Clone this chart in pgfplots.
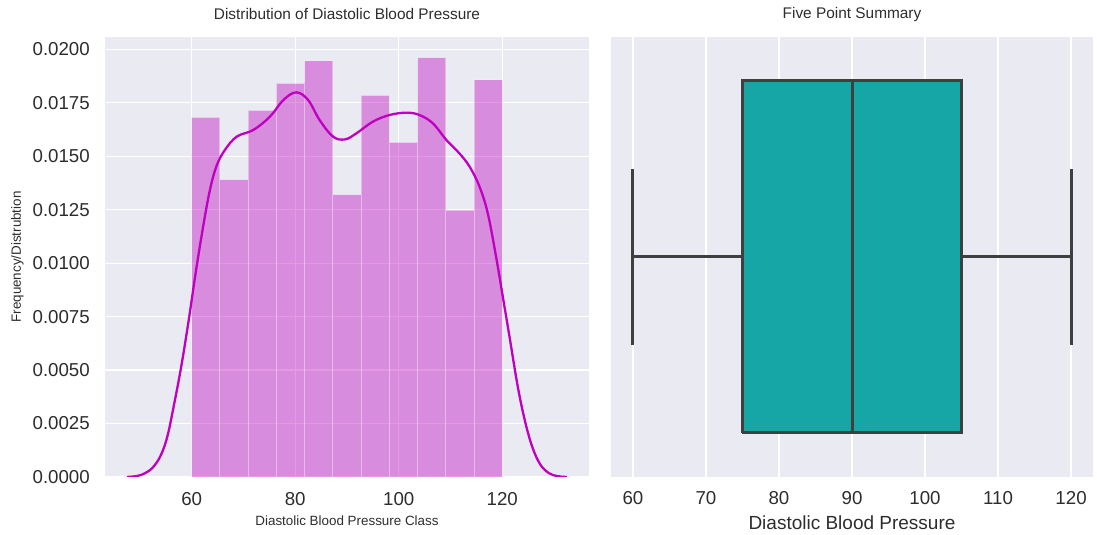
\documentclass[border=0pt]{standalone}
\usepackage{pgfplots}
\pgfplotsset{compat=1.18}
\usepackage{pgfplotstable}
\usepackage{fontspec}
\setmainfont{Liberation Sans}
\definecolor{sbbg}{HTML}{EAEAF2}
\definecolor{kdec}{RGB}{191,0,191}
\definecolor{boxc}{RGB}{23,166,166}
\definecolor{linec}{RGB}{63,63,63}
\definecolor{txt}{RGB}{45,45,45}

\pgfplotstableread{
x y
60.0000 0.016823
65.4545 0.013904
70.9091 0.017150
76.3636 0.018414
81.8182 0.019460
87.2727 0.013202
92.7273 0.017853
98.1818 0.015652
103.6364 0.019616
109.0909 0.012484
114.5455 0.018570
120.0000 0.018570
}\histtab

\pgfplotstableread{
x y
47.5 0.00000
49.5 0.00005
51.0 0.00018
52.5 0.00045
54.0 0.00100
55.3 0.00190
56.6 0.00340
58.0 0.00520
59.4 0.00730
60.8 0.00960
62.2 0.01170
63.5 0.01340
64.8 0.01455
66.4 0.01529
68.7 0.01592
71.9 0.01623
75.1 0.01685
77.7 0.01763
80.2 0.01799
82.5 0.01763
84.7 0.01670
87.3 0.01592
89.6 0.01579
91.8 0.01607
95.0 0.01662
98.2 0.01693
101.5 0.01704
104.0 0.01693
106.6 0.01654
109.2 0.01576
111.7 0.01514
113.7 0.01451
115.6 0.01358
117.2 0.01233
118.8 0.01030
120.1 0.00843
121.4 0.00655
123.0 0.00421
124.4 0.00260
125.8 0.00140
127.3 0.00060
129.0 0.00018
130.7 0.00004
132.5 0.00000
}\kdetab

% five point summary: min, Q1, median, Q3, max
\def\bmin{60}\def\bqone{75}\def\bmed{90}\def\bqthree{105}\def\bmax{120}

\pgfplotsset{
  sbstyle/.style={
    scale only axis,
    axis background/.style={fill=sbbg},
    axis line style={draw=none},
    major tick length=0pt,
    grid style={white, line width=1.2bp},
    /pgf/number format/assume math mode=true,
    tick label style={font=\fontsize{18.7bp}{22bp}\selectfont, text=txt, inner sep=0pt},
    title style={font=\fontsize{15.4bp}{18bp}\selectfont, text=txt, anchor=center, inner sep=0pt},
    label style={text=txt, inner sep=0pt},
  },
}

\begin{document}
\begin{tikzpicture}
\path[use as bounding box] (0,0) rectangle (1097bp,535bp);

\begin{axis}[sbstyle,
  at={(105bp,58bp)}, anchor=south west,
  width=484bp, height=440bp,
  xmin=43.25, xmax=136.75, ymin=0, ymax=0.02058,
  xmajorgrids=true, ymajorgrids=true,
  xtick={60,80,100,120},
  ytick={0,0.0025,0.005,0.0075,0.01,0.0125,0.015,0.0175,0.02},
  scaled y ticks=false,
  yticklabel style={/pgf/number format/.cd, fixed, fixed zerofill, precision=4, /tikz/.cd, anchor=east, xshift=-15bp},
  xticklabel style={anchor=center, yshift=-22bp},
  title={Distribution of Diastolic Blood Pressure},
  title style={at={(axis description cs:0.5,1.0386)}},
  xlabel={Diastolic Blood Pressure Class},
  xlabel style={font=\fontsize{13.4bp}{16bp}\selectfont, at={(axis description cs:0.5,-0.1)}, anchor=center},
  ylabel={Frequency/Distrubtion},
  ylabel style={font=\fontsize{13.4bp}{16bp}\selectfont, at={(axis description cs:-0.1808,0.5)}, anchor=center, rotate=0},
]
\addplot[ybar interval, fill=kdec, draw=white, line width=1bp, opacity=0.4] table[x=x, y=y] {\histtab};
\addplot[kdec, line width=2.3bp, smooth, tension=0.6] table[x=x, y=y] {\kdetab};
\end{axis}

\begin{axis}[sbstyle,
  at={(611bp,58bp)}, anchor=south west,
  width=482bp, height=440bp,
  xmin=57, xmax=123, ymin=-0.5, ymax=0.5,
  xmajorgrids=true, ymajorgrids=false,
  xtick={60,70,80,90,100,110,120},
  ytick=\empty,
  xticklabel style={anchor=center, yshift=-21bp},
  title={Five Point Summary},
  title style={at={(axis description cs:0.5,1.0386)}},
  xlabel={Diastolic Blood Pressure},
  xlabel style={font=\fontsize{19bp}{22bp}\selectfont, at={(axis description cs:0.5,-0.1045)}, anchor=center},
]
% whiskers
\addplot[color=linec, line width=3bp] coordinates {(\bmin,0) (\bqone,0)};
\addplot[color=linec, line width=3bp] coordinates {(\bqthree,0) (\bmax,0)};
\addplot[color=linec, line width=3bp] coordinates {(\bmin,-0.2) (\bmin,0.2)};
\addplot[color=linec, line width=3bp] coordinates {(\bmax,-0.2) (\bmax,0.2)};
% box
\addplot[draw=linec, fill=boxc, line width=3bp, line join=miter] coordinates {(\bqone,-0.4) (\bqthree,-0.4) (\bqthree,0.4) (\bqone,0.4) (\bqone,-0.4)};
% median
\addplot[color=linec, line width=3bp] coordinates {(\bmed,-0.4) (\bmed,0.4)};
\end{axis}
\end{tikzpicture}
\end{document}
